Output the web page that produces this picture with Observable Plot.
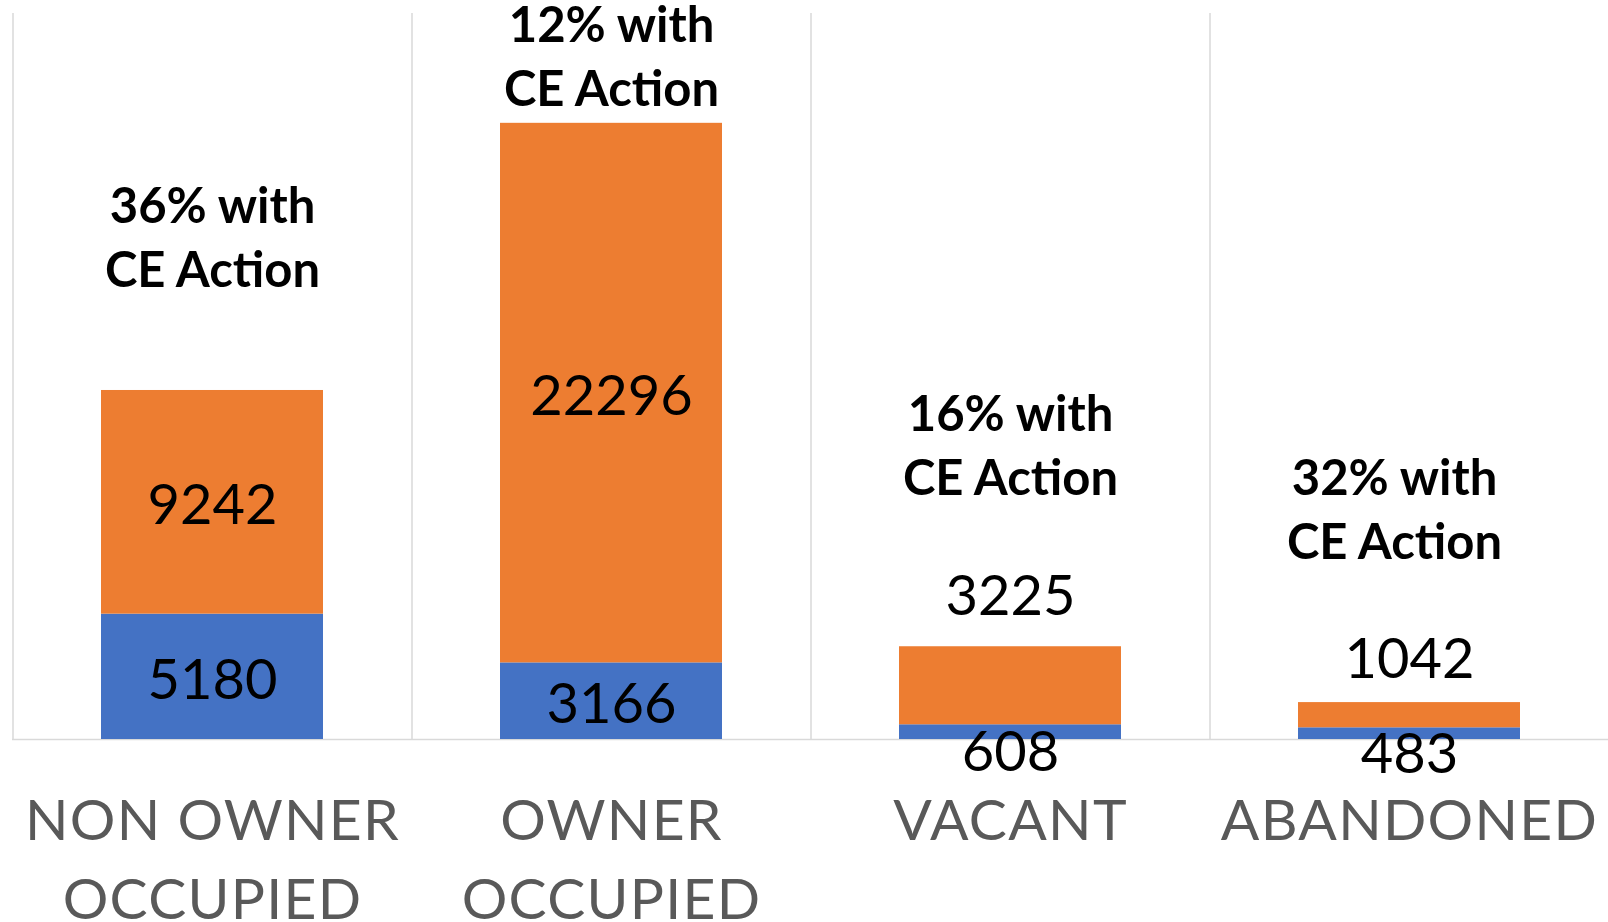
<!DOCTYPE html>
<html><head><meta charset="utf-8">
<script src="https://cdn.jsdelivr.net/npm/d3@7"></script>
<script src="https://cdn.jsdelivr.net/npm/@observablehq/plot@0.6"></script>
<style>
html,body{margin:0;padding:0;background:#fff;}
g[aria-label="x-axis tick label"] text {letter-spacing: 1.3px;}
</style></head><body><div id="chart"></div>
<script>
// ---- data ----
const categories = ["NON OWNER\nOCCUPIED", "OWNER\nOCCUPIED", "VACANT", "ABANDONED"];
const withCE = [5180, 3166, 608, 483];
const withoutCE = [9242, 22296, 3225, 1042];
const shareLabels = ["36% with\nCE Action", "12% with\nCE Action", "16% with\nCE Action", "32% with\nCE Action"];
const series = ["With CE Action", "Without CE Action"];
const yMax = 30000;

// ---- styles / layout ----
const colors = ["#4472C4", "#ED7D31"];
const W = 1608, H = 922, mL = 12, mR = 0, mT = 13, mB = 183;
const step = (W - mL - mR) / categories.length;
const FONT = "Lato, Carlito, Calibri, sans-serif";
// pixel nudges for value labels [with, without] as [dx, dy]
const valueNudge = [[[0,4],[0,4]], [[0,4],[0,4]], [[0,21],[0,-89]], [[0,21],[0,-55]]];
// pixel nudges for share annotations relative to bar top
const shareNudge = [[0,-156],[0,-70],[0,-204],[-15,-196]];

const rows = categories.flatMap((c, i) => [
  {category: c, series: series[0], value: withCE[i]},
  {category: c, series: series[1], value: withoutCE[i]}
]);

const marks = [];
// category separators
marks.push(Plot.ruleX(categories, {x: d => d, dx: -step / 2, y1: 0, y2: yMax, stroke: "#d9d9d9", strokeWidth: 1.5}));
marks.push(Plot.ruleY([0], {stroke: "#d9d9d9", strokeWidth: 1.5}));
marks.push(Plot.barY(rows, {x: "category", y: "value", fill: "series", order: series}));

categories.forEach((c, i) => {
  const segs = [
    {lo: 0, hi: withCE[i], v: withCE[i]},
    {lo: withCE[i], hi: withCE[i] + withoutCE[i], v: withoutCE[i]}
  ];
  segs.forEach((s, j) => {
    marks.push(Plot.text([s], {
      x: () => c, y: d => (d.lo + d.hi) / 2, text: d => String(d.v),
      dx: valueNudge[i][j][0], dy: valueNudge[i][j][1],
      fontSize: 56, fill: "#000", lineAnchor: "middle"
    }));
  });
  marks.push(Plot.text([shareLabels[i]], {
    x: () => c, y: () => withCE[i] + withoutCE[i], text: d => d,
    dx: shareNudge[i][0], dy: shareNudge[i][1],
    fontSize: 49, fontWeight: "bold", fill: "#000", lineAnchor: "middle", lineHeight: 1.31
  }));
});

marks.push(Plot.axisX({tickSize: 0, tickPadding: 44, fontSize: 57, lineHeight: 1.386, lineAnchor: "top", fill: "#595959", label: null}));

const chart = Plot.plot({
  width: W, height: H,
  marginLeft: mL, marginRight: mR, marginTop: mT, marginBottom: mB,
  style: {fontFamily: FONT, background: "#fff"},
  x: {domain: categories, paddingInner: 0.444, paddingOuter: 0.222, axis: null},
  y: {domain: [0, yMax], axis: null},
  color: {domain: series, range: colors},
  marks
});
document.getElementById("chart").appendChild(chart);
</script></body></html>
